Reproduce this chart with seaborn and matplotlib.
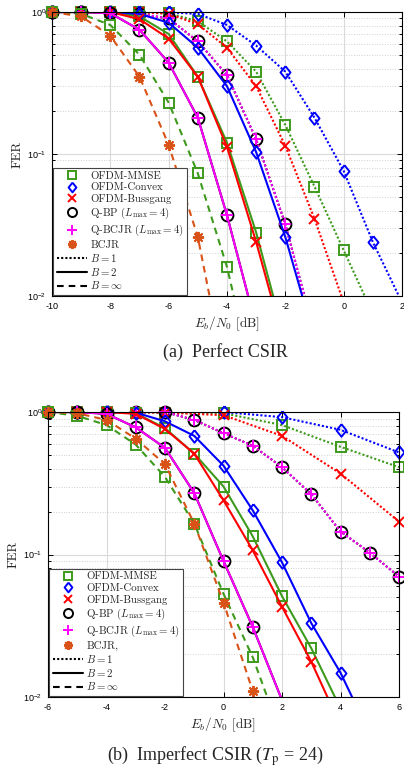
import matplotlib
matplotlib.use("Agg")
import matplotlib.pyplot as plt
from matplotlib.lines import Line2D
from matplotlib.ticker import NullFormatter, LogLocator, FixedLocator
from matplotlib.font_manager import FontProperties
import seaborn as sns

# ---------------- (a) Perfect CSIR ----------------
a_mmse_b1_x = list(range(-10, 2))
a_mmse_b1 = [1, 1, 1, 1, 0.98, 0.86, 0.62, 0.38, 0.16, 0.059, 0.021, 0.0075]
a_convex_b1_x = list(range(-10, 3))
a_convex_b1 = [1, 1, 1, 1, 0.995, 0.97, 0.81, 0.58, 0.38, 0.18, 0.076, 0.024, 0.009]
a_bussgang_b1_x = list(range(-10, 1))
a_bussgang_b1 = [1, 1, 1, 1, 0.97, 0.82, 0.56, 0.30, 0.114, 0.035, 0.009]
a_qbp_b1_x = list(range(-10, 0))
a_qbp_b1 = [1, 1, 1, 0.97, 0.9, 0.62, 0.36, 0.127, 0.032, 0.0054]
a_mmse_b2_x = list(range(-10, -1))
a_mmse_b2 = [1, 1, 1, 0.93, 0.70, 0.35, 0.12, 0.028, 0.0048]
a_bussgang_b2_x = list(range(-10, -1))
a_bussgang_b2 = [1, 1, 1, 0.89, 0.65, 0.35, 0.112, 0.024, 0.0043]
a_convex_b2_x = list(range(-10, 0))
a_convex_b2 = [1, 1, 1, 0.97, 0.84, 0.56, 0.30, 0.103, 0.026, 0.005]
a_qbp_b2_x = list(range(-10, -2))
a_qbp_b2 = [1, 1, 0.98, 0.75, 0.44, 0.18, 0.037, 0.0061]
a_mmse_inf_x = list(range(-10, -2))
a_mmse_inf = [1, 0.97, 0.81, 0.50, 0.23, 0.073, 0.016, 0.0021]
a_bcjr_inf_x = list(range(-10, -3))
a_bcjr_inf = [1, 0.93, 0.68, 0.35, 0.116, 0.026, 0.0024]

# ---------------- (b) Imperfect CSIR ----------------
b_even_x = [-6, -4, -2, 0, 2, 4, 6]
b_mmse_b1 = [1, 1, 0.99, 0.98, 0.81, 0.57, 0.41]
b_convex_b1 = [1, 1, 1, 1, 0.92, 0.75, 0.52]
b_bussgang_b1 = [1, 1, 0.99, 0.95, 0.68, 0.37, 0.17]
b_qbp_b1_x = list(range(-6, 7))
b_qbp_b1 = [1, 1, 1, 1, 1, 0.88, 0.71, 0.58, 0.41, 0.265, 0.145, 0.103, 0.070]
b_mmse_b2_x = list(range(-6, 5))
b_mmse_b2 = [1, 1, 1, 0.98, 0.77, 0.51, 0.30, 0.134, 0.051, 0.022, 0.0083]
b_bussgang_b2_x = list(range(-6, 5))
b_bussgang_b2 = [1, 1, 1, 0.97, 0.76, 0.51, 0.24, 0.107, 0.043, 0.0177, 0.0063]
b_convex_b2_x = list(range(-6, 6))
b_convex_b2 = [1, 1, 1, 0.99, 0.86, 0.68, 0.42, 0.204, 0.088, 0.033, 0.0148, 0.0055]
b_qbp_b2_x = list(range(-6, 4))
b_qbp_b2 = [1, 1, 0.97, 0.78, 0.56, 0.27, 0.090, 0.031, 0.0095, 0.003]
b_mmse_inf_x = list(range(-6, 3))
b_mmse_inf = [1, 0.94, 0.81, 0.59, 0.35, 0.165, 0.053, 0.019, 0.0052]
b_bcjr_inf_x = list(range(-6, 3))
b_bcjr_inf = [1, 0.98, 0.88, 0.65, 0.43, 0.165, 0.046, 0.011, 0.002]

legend_labels = ['OFDM-MMSE', 'OFDM-Convex', 'OFDM-Bussgang',
                 r'Q-BP ($L_{\max}=4$)', r'Q-BCJR ($L_{\max}=4$)']

GREEN = '#3d9a1c'
BLUE = '#0000ff'
RED = '#ff0000'
MAG = '#ff00ff'
ORANGE = '#d95319'
DOT = (0, (1, 1))
DASH = (0, (3.2, 2.4))
SOLID = '-'
ASTER = (8, 2, 0)
# matlab-like diamond, a bit taller than wide
DIAM = [(0, 1), (0.8, 0), (0, -1), (-0.8, 0), (0, 1)]

sns.set_style("ticks")
plt.rcParams['font.family'] = ['Liberation Sans', 'DejaVu Sans']
plt.rcParams['mathtext.fontset'] = 'dejavusans'
plt.rcParams['axes.unicode_minus'] = False
plt.rcParams['axes.axisbelow'] = True


def curve(ax, x, y, color, ls, marker, ms):
    sns.lineplot(x=x, y=y, ax=ax, color=color, linestyle=ls, linewidth=1.5,
                 estimator=None, sort=False)
    xs = [a for a, b in zip(x, y) if b >= 0.01]
    ys = [b for b in y if b >= 0.01]
    sns.lineplot(x=xs, y=ys, ax=ax, linestyle='none', marker=marker, markersize=ms,
                 markerfacecolor='none', markeredgecolor=color, markeredgewidth=1.4,
                 clip_on=False, estimator=None, sort=False)


def style_axes(ax, xlim, xticks, last_label):
    ax.set_yscale('log')
    ax.set_ylim(1e-2, 1)
    ax.set_xlim(*xlim)
    ax.xaxis.set_major_locator(FixedLocator(xticks))
    ax.yaxis.set_minor_locator(LogLocator(subs=range(2, 10)))
    ax.yaxis.set_minor_formatter(NullFormatter())
    ax.grid(True, which='major', color='#dadada', linewidth=0.8, linestyle='-')
    ax.grid(True, which='minor', axis='y', color='#d0d0d0', linewidth=0.7, linestyle=':')
    ax.tick_params(which='both', direction='in', top=True, right=True, labelsize=6.5,
                   width=0.7, colors='k')
    ax.tick_params(which='major', length=3.5, pad=4)
    ax.tick_params(which='minor', length=2)
    for s in ax.spines.values():
        s.set_linewidth(0.8)
        s.set_color('k')
    ax.set_xlabel(r'$E_b/N_0$ [dB]', fontsize=9.5, family='cmr10', math_fontfamily='cm',
                  labelpad=3)
    ax.set_ylabel('FER', fontsize=9.5, family='cmr10', labelpad=3)

    ms_leg = 5.5
    handles = [
        Line2D([], [], ls='none', marker='s', ms=ms_leg, mfc='none', mec=GREEN, mew=1.4),
        Line2D([], [], ls='none', marker=DIAM, ms=ms_leg + 1.5, mfc='none', mec=BLUE, mew=1.4),
        Line2D([], [], ls='none', marker='x', ms=ms_leg, mfc='none', mec=RED, mew=1.4),
        Line2D([], [], ls='none', marker='o', ms=ms_leg + 1, mfc='none', mec='k', mew=1.4),
        Line2D([], [], ls='none', marker='+', ms=ms_leg + 1.5, mfc='none', mec=MAG, mew=1.4),
        Line2D([], [], ls='none', marker=ASTER, ms=ms_leg + 1, mfc='none', mec=ORANGE, mew=1.4),
        Line2D([], [], color='k', ls=DOT, lw=1.5),
        Line2D([], [], color='k', ls=SOLID, lw=1.5),
        Line2D([], [], color='k', ls=DASH, lw=1.5),
    ]
    labels = legend_labels + [last_label, r'$B=1$', r'$B=2$', r'$B=\infty$']
    leg = ax.legend(handles, labels, loc='lower left',
                    prop=FontProperties(family='cmr10', size=7.8, math_fontfamily='cm'),
                    frameon=True, fancybox=False, framealpha=1, edgecolor='#444444',
                    borderaxespad=0.12, handlelength=2.8, handletextpad=0.3,
                    labelspacing=0.17, borderpad=0.3)
    leg.get_frame().set_linewidth(0.8)


fig = plt.figure(figsize=(4.04, 7.79), dpi=100)
ax1 = fig.add_axes([52 / 404, 1 - 296 / 779, 350 / 404, 284 / 779])
ax2 = fig.add_axes([48 / 404, 1 - 697 / 779, 351 / 404, 285 / 779])

# (a)
ax1.set_yscale('log')
curve(ax1, a_mmse_b1_x, a_mmse_b1, GREEN, DOT, 's', 7)
curve(ax1, a_convex_b1_x, a_convex_b1, BLUE, DOT, DIAM, 9)
curve(ax1, a_bussgang_b1_x, a_bussgang_b1, RED, DOT, 'x', 7)
curve(ax1, a_qbp_b1_x, a_qbp_b1, 'k', DOT, 'o', 8.5)
curve(ax1, a_qbp_b1_x, a_qbp_b1, MAG, DOT, '+', 9)
curve(ax1, a_mmse_b2_x, a_mmse_b2, GREEN, SOLID, 's', 7)
curve(ax1, a_convex_b2_x, a_convex_b2, BLUE, SOLID, DIAM, 9)
curve(ax1, a_bussgang_b2_x, a_bussgang_b2, RED, SOLID, 'x', 7)
curve(ax1, a_qbp_b2_x, a_qbp_b2, 'k', SOLID, 'o', 8.5)
curve(ax1, a_qbp_b2_x, a_qbp_b2, MAG, SOLID, '+', 9)
curve(ax1, a_mmse_inf_x, a_mmse_inf, GREEN, DASH, 's', 7)
curve(ax1, a_bcjr_inf_x, a_bcjr_inf, ORANGE, DASH, ASTER, 8)
style_axes(ax1, (-10, 2), list(range(-10, 3, 2)), 'BCJR')

# (b)
ax2.set_yscale('log')
curve(ax2, b_even_x, b_mmse_b1, GREEN, DOT, 's', 7)
curve(ax2, b_even_x, b_convex_b1, BLUE, DOT, DIAM, 9)
curve(ax2, b_even_x, b_bussgang_b1, RED, DOT, 'x', 7)
curve(ax2, b_qbp_b1_x, b_qbp_b1, 'k', DOT, 'o', 8.5)
curve(ax2, b_qbp_b1_x, b_qbp_b1, MAG, DOT, '+', 9)
curve(ax2, b_mmse_b2_x, b_mmse_b2, GREEN, SOLID, 's', 7)
curve(ax2, b_convex_b2_x, b_convex_b2, BLUE, SOLID, DIAM, 9)
curve(ax2, b_bussgang_b2_x, b_bussgang_b2, RED, SOLID, 'x', 7)
curve(ax2, b_qbp_b2_x, b_qbp_b2, 'k', SOLID, 'o', 8.5)
curve(ax2, b_qbp_b2_x, b_qbp_b2, MAG, SOLID, '+', 9)
curve(ax2, b_mmse_inf_x, b_mmse_inf, GREEN, DASH, 's', 7)
curve(ax2, b_bcjr_inf_x, b_bcjr_inf, ORANGE, DASH, ASTER, 8)
style_axes(ax2, (-6, 6), list(range(-6, 7, 2)), 'BCJR,')

fig.text(225 / 404, 1 - 352 / 779, '(a)  Perfect CSIR', ha='center', va='center',
         family='Liberation Serif', fontsize=13)
fig.text(215 / 404, 1 - 756 / 779, r'(b)  Imperfect CSIR ($T_{\mathrm{p}}$ = 24)',
         ha='center', va='center', family='Liberation Serif', fontsize=13,
         math_fontfamily='stix')

fig.savefig('out.png', dpi=100)
